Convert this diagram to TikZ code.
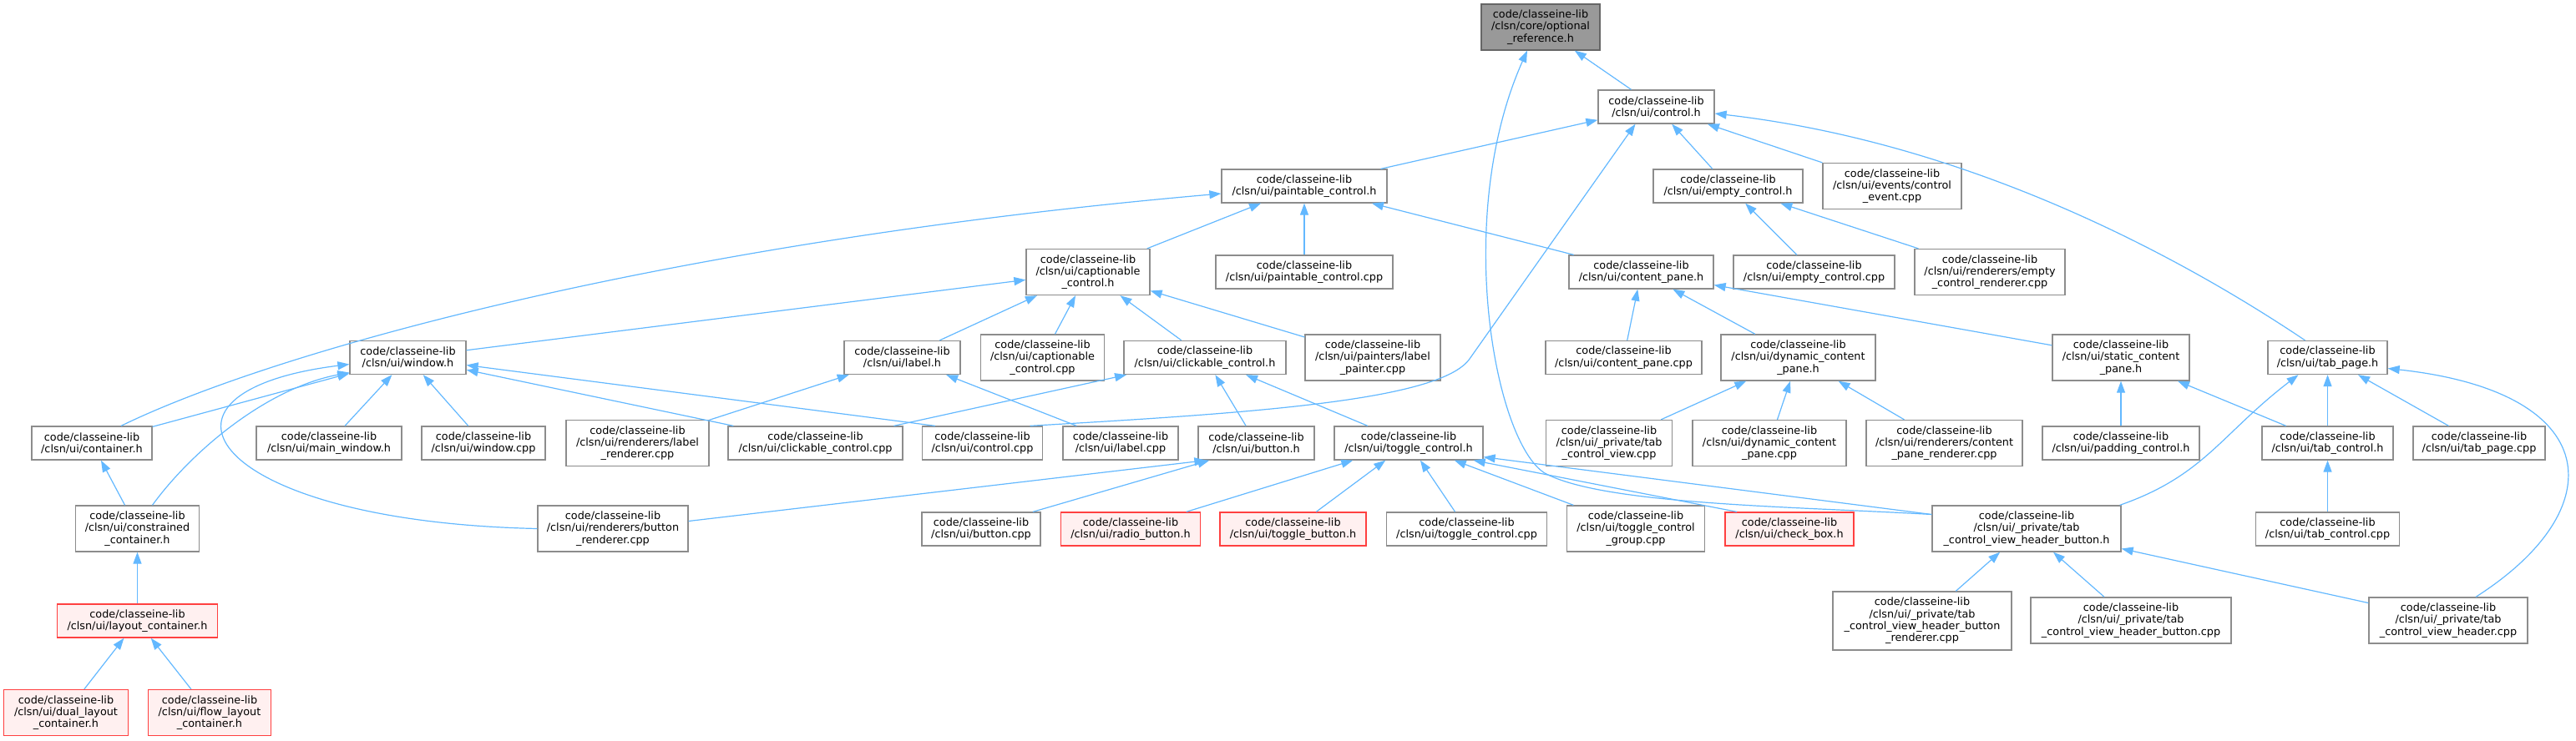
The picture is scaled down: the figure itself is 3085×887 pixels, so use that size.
\documentclass[tikz,border=0pt]{standalone}
\usepackage{fontspec}
\setmainfont{DejaVu Sans}
\usetikzlibrary{arrows.meta}

\definecolor{boxgray}{HTML}{8C8C8C}
\definecolor{rootfill}{HTML}{999999}
\definecolor{rootedge}{HTML}{666666}
\definecolor{truncfill}{HTML}{FFF0F0}
\definecolor{truncedge}{HTML}{FF4040}
\definecolor{edgeblue}{HTML}{63B8FF}

\tikzset{
  file/.style={draw=boxgray, fill=white, line width=1.3pt, align=center,
    inner xsep=3pt, inner ysep=2pt, font=\fontsize{12.8}{14.3}\selectfont},
  root/.style={file, draw=rootedge, fill=rootfill},
  trunc/.style={file, draw=truncedge, fill=truncfill},
  twoline/.style={minimum height=40},
  threeline/.style={minimum height=55},
  fourline/.style={minimum height=70},
  dep/.style={draw=edgeblue, line width=1.2pt, -{Triangle[length=14pt,width=10pt]}},
}

\begin{document}
\begin{tikzpicture}[x=1pt,y=-1pt]
  \useasboundingbox (0,0) rectangle (3085,887);

  % rows from top to bottom
  \node[root, threeline, minimum width=142] (optref) at (1845,32.5) {code/classeine-lib\\/clsn/core/optional\\\_reference.h};

  \node[file, twoline, minimum width=139] (control) at (1983.5,128) {code/classeine-lib\\/clsn/ui/control.h};

  \node[file, twoline, minimum width=198] (paintable) at (1562,223) {code/classeine-lib\\/clsn/ui/paintable\_control.h};
  \node[file, twoline, minimum width=179] (emptyctl) at (2069.5,223) {code/classeine-lib\\/clsn/ui/empty\_control.h};
  \node[file, threeline, minimum width=166] (ctlevent) at (2266,223) {code/classeine-lib\\/clsn/ui/events/control\\\_event.cpp};

  \node[file, threeline, minimum width=148] (caption) at (1303,326) {code/classeine-lib\\/clsn/ui/captionable\\\_control.h};
  \node[file, twoline, minimum width=212] (paintcpp) at (1562,326) {code/classeine-lib\\/clsn/ui/paintable\_control.cpp};
  \node[file, twoline, minimum width=173] (contentpane) at (1965.5,326) {code/classeine-lib\\/clsn/ui/content\_pane.h};
  \node[file, twoline, minimum width=193] (emptycpp) at (2172.5,326) {code/classeine-lib\\/clsn/ui/empty\_control.cpp};
  \node[file, threeline, minimum width=180] (emptyrend) at (2383,326) {code/classeine-lib\\/clsn/ui/renderers/empty\\\_control\_renderer.cpp};

  \node[file, twoline, minimum width=139] (window) at (488.5,428.5) {code/classeine-lib\\/clsn/ui/window.h};
  \node[file, twoline, minimum width=139] (label) at (1080.5,428.5) {code/classeine-lib\\/clsn/ui/label.h};
  \node[file, threeline, minimum width=148] (captioncpp) at (1248.5,428.5) {code/classeine-lib\\/clsn/ui/captionable\\\_control.cpp};
  \node[file, twoline, minimum width=194] (clickable) at (1443,428.5) {code/classeine-lib\\/clsn/ui/clickable\_control.h};
  \node[file, threeline, minimum width=162] (labelpaint) at (1644,428.5) {code/classeine-lib\\/clsn/ui/painters/label\\\_painter.cpp};
  \node[file, twoline, minimum width=187] (contentcpp) at (1944.5,428.5) {code/classeine-lib\\/clsn/ui/content\_pane.cpp};
  \node[file, threeline, minimum width=185] (dynpane) at (2153.5,428.5) {code/classeine-lib\\/clsn/ui/dynamic\_content\\\_pane.h};
  \node[file, threeline, minimum width=164] (staticpane) at (2540,428.5) {code/classeine-lib\\/clsn/ui/static\_content\\\_pane.h};
  \node[file, twoline, minimum width=143] (tabpage) at (2787.5,428.5) {code/classeine-lib\\/clsn/ui/tab\_page.h};

  \node[file, twoline, minimum width=144] (container) at (110,531) {code/classeine-lib\\/clsn/ui/container.h};
  \node[file, twoline, minimum width=174] (mainwin) at (394,531) {code/classeine-lib\\/clsn/ui/main\_window.h};
  \node[file, twoline, minimum width=148] (windowcpp) at (579,531) {code/classeine-lib\\/clsn/ui/window.cpp};
  \node[file, threeline, minimum width=171] (labelrend) at (763.5,531) {code/classeine-lib\\/clsn/ui/renderers/label\\\_renderer.cpp};
  \node[file, twoline, minimum width=209] (clickcpp) at (976.5,531) {code/classeine-lib\\/clsn/ui/clickable\_control.cpp};
  \node[file, twoline, minimum width=144] (controlcpp) at (1176.5,531) {code/classeine-lib\\/clsn/ui/control.cpp};
  \node[file, twoline, minimum width=138] (labelcpp) at (1342,531) {code/classeine-lib\\/clsn/ui/label.cpp};
  \node[file, twoline, minimum width=139] (button) at (1504.5,531) {code/classeine-lib\\/clsn/ui/button.h};
  \node[file, twoline, minimum width=178] (toggle) at (1687,531) {code/classeine-lib\\/clsn/ui/toggle\_control.h};
  \node[file, threeline, minimum width=151] (tabview) at (1927,531) {code/classeine-lib\\/clsn/ui/\_private/tab\\\_control\_view.cpp};
  \node[file, threeline, minimum width=184] (dyncpp) at (2119,531) {code/classeine-lib\\/clsn/ui/dynamic\_content\\\_pane.cpp};
  \node[file, threeline, minimum width=187] (contentrend) at (2328.5,531) {code/classeine-lib\\/clsn/ui/renderers/content\\\_pane\_renderer.cpp};
  \node[file, twoline, minimum width=188] (padding) at (2540,531) {code/classeine-lib\\/clsn/ui/padding\_control.h};
  \node[file, twoline, minimum width=157] (tabctl) at (2787.5,531) {code/classeine-lib\\/clsn/ui/tab\_control.h};
  \node[file, twoline, minimum width=158] (tabpagecpp) at (2969,531) {code/classeine-lib\\/clsn/ui/tab\_page.cpp};

  \node[file, threeline, minimum width=148] (constrained) at (164.5,633.5) {code/classeine-lib\\/clsn/ui/constrained\\\_container.h};
  \node[file, threeline, minimum width=180] (buttonrend) at (734,633.5) {code/classeine-lib\\/clsn/ui/renderers/button\\\_renderer.cpp};
  \node[file, twoline, minimum width=142] (buttoncpp) at (1175,634) {code/classeine-lib\\/clsn/ui/button.cpp};
  \node[trunc, twoline, minimum width=167] (radio) at (1354,634) {code/classeine-lib\\/clsn/ui/radio\_button.h};
  \node[trunc, twoline, minimum width=175] (togglebtn) at (1548.5,634) {code/classeine-lib\\/clsn/ui/toggle\_button.h};
  \node[file, twoline, minimum width=192] (togglecpp) at (1756.5,634) {code/classeine-lib\\/clsn/ui/toggle\_control.cpp};
  \node[file, threeline, minimum width=165] (togglegroup) at (1959,633.5) {code/classeine-lib\\/clsn/ui/toggle\_control\\\_group.cpp};
  \node[trunc, twoline, minimum width=154] (checkbox) at (2143,634) {code/classeine-lib\\/clsn/ui/check\_box.h};
  \node[file, threeline, minimum width=226] (hdrbtn) at (2427,633.5) {code/classeine-lib\\/clsn/ui/\_private/tab\\\_control\_view\_header\_button.h};
  \node[file, twoline, minimum width=172] (tabctlcpp) at (2787.5,634) {code/classeine-lib\\/clsn/ui/tab\_control.cpp};

  \node[trunc, twoline, minimum width=192] (layout) at (164.5,744) {code/classeine-lib\\/clsn/ui/layout\_container.h};
  \node[file, fourline, minimum width=214] (hdrbtnrend) at (2302,744) {code/classeine-lib\\/clsn/ui/\_private/tab\\\_control\_view\_header\_button\\\_renderer.cpp};
  \node[file, threeline, minimum width=240] (hdrbtncpp) at (2552,743.5) {code/classeine-lib\\/clsn/ui/\_private/tab\\\_control\_view\_header\_button.cpp};
  \node[file, threeline, minimum width=190] (hdrcpp) at (2932,743.5) {code/classeine-lib\\/clsn/ui/\_private/tab\\\_control\_view\_header.cpp};

  \node[trunc, threeline, minimum width=149] (dual) at (79,854) {code/classeine-lib\\/clsn/ui/dual\_layout\\\_container.h};
  \node[trunc, threeline, minimum width=147] (flow) at (251,854) {code/classeine-lib\\/clsn/ui/flow\_layout\\\_container.h};

  % includes of optional_reference.h and control.h
  \draw[dep] (control) -- (optref);
  \draw[dep] ([yshift=17]hdrbtn.west) .. controls (2150,607) and (1920,605) .. (1850,567)
    .. controls (1790,530) and (1740,260) .. ([xshift=-16]optref.south);
  \draw[dep] (paintable) -- (control);
  \draw[dep] (emptyctl) -- (control);
  \draw[dep] (ctlevent) -- (control);
  \draw[dep] ([xshift=-27]tabpage.north) .. controls (2600,300) and (2350,170) .. ([yshift=-8]control.east);
  \draw[dep] ([xshift=57]controlcpp.north) .. controls (1500,495) and (1725,480) .. (1760,430)
    -- ([xshift=-25]control.south);

  % paintable and empty control
  \draw[dep] (caption) -- (paintable);
  \draw[dep] (paintcpp) -- (paintable);
  \draw[dep] (contentpane) -- (paintable);
  \draw[dep] ([xshift=35]container.north) .. controls (330,420) and (800,290) .. ([yshift=-9]paintable.west);
  \draw[dep] (emptycpp) -- (emptyctl);
  \draw[dep] (emptyrend) -- (emptyctl);

  % captionable control
  \draw[dep] (window) -- (caption);
  \draw[dep] (label) -- (caption);
  \draw[dep] (captioncpp) -- (caption);
  \draw[dep] (clickable) -- (caption);
  \draw[dep] (labelpaint) -- (caption);

  % window
  \draw[dep] (container) -- (window);
  \draw[dep] ([xshift=18]constrained.north) .. controls (230,540) and (320,465) .. ([yshift=-18]window.west);
  \draw[dep] (buttonrend.west) .. controls (250,625) and (150,470) .. ([yshift=-8]window.west);
  \draw[dep] (mainwin) -- (window);
  \draw[dep] (windowcpp) -- (window);
  \draw[dep] (clickcpp) -- (window);
  \draw[dep] ([xshift=16]controlcpp.north west) -- (window);

  % label, clickable, button
  \draw[dep] (labelrend) -- (label);
  \draw[dep] (labelcpp) -- (label);
  \draw[dep] (clickcpp) -- (clickable);
  \draw[dep] (button) -- (clickable);
  \draw[dep] (toggle) -- (clickable);
  \draw[dep] ([yshift=9]buttonrend.east) -- ([xshift=10]button.south west);
  \draw[dep] ([xshift=62]buttoncpp.north) -- ([xshift=14]button.south west);

  % toggle control
  \draw[dep] (radio) -- (toggle);
  \draw[dep] (togglebtn) -- (toggle);
  \draw[dep] (togglecpp) -- (toggle);
  \draw[dep] (togglegroup) -- (toggle);
  \draw[dep] ([xshift=-63]checkbox.north) -- ([xshift=-12]toggle.south east);
  \draw[dep] ([yshift=17]hdrbtn.west) -- ([yshift=4]toggle.south east);

  % content panes
  \draw[dep] (contentcpp) -- (contentpane);
  \draw[dep] (dynpane) -- (contentpane);
  \draw[dep] (staticpane) -- (contentpane);
  \draw[dep] (tabview) -- (dynpane);
  \draw[dep] (dyncpp) -- (dynpane);
  \draw[dep] (contentrend) -- (dynpane);
  \draw[dep] (padding) -- (staticpane);
  \draw[dep] (tabctl) -- (staticpane);

  % tab page and tab control
  \draw[dep] (tabctl) -- (tabpage);
  \draw[dep] (tabpagecpp) -- (tabpage);
  \draw[dep] ([xshift=-2]hdrbtn.north east) .. controls (2640,570) and (2660,520) .. ([xshift=-35]tabpage.south);
  \draw[dep] ([xshift=33]hdrcpp.north) .. controls (3130,610) and (3120,470) .. ([yshift=-13]tabpage.east);
  \draw[dep] (tabctlcpp) -- (tabctl);
  \draw[dep] (hdrbtnrend) -- (hdrbtn);
  \draw[dep] (hdrbtncpp) -- (hdrbtn);
  \draw[dep] (hdrcpp) -- ([yshift=-24]hdrbtn.east);

  % containers
  \draw[dep] (constrained) -- (container);
  \draw[dep] (layout) -- (constrained);
  \draw[dep] (dual) -- (layout);
  \draw[dep] (flow) -- (layout);
\end{tikzpicture}
\end{document}
